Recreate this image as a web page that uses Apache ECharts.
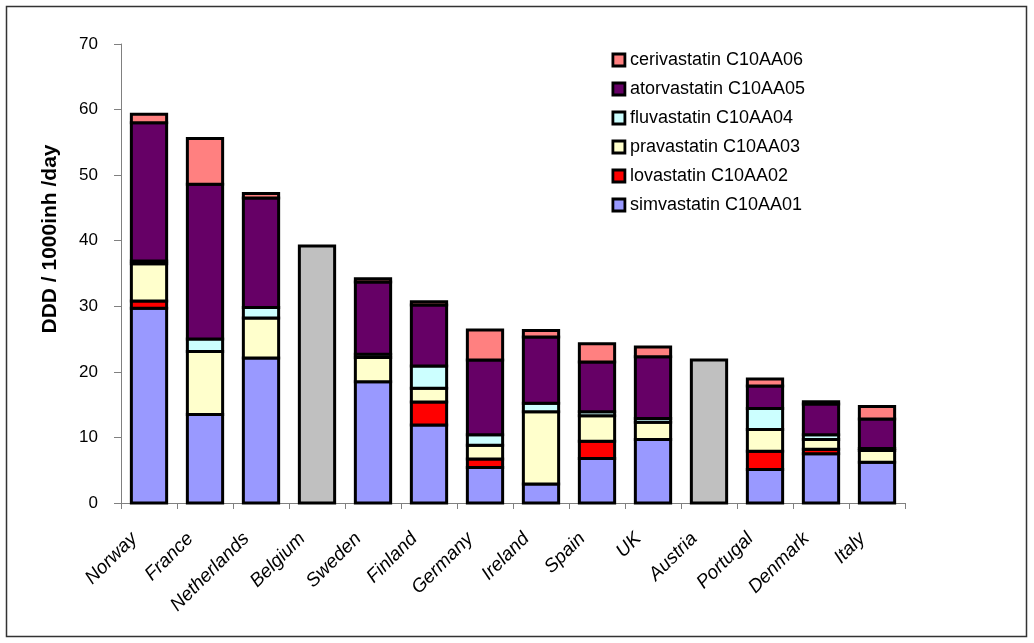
<!DOCTYPE html>
<html>
<head>
<meta charset="utf-8">
<script src="https://cdn.jsdelivr.net/npm/echarts@6/dist/echarts.min.js"></script>
<style>
html,body{margin:0;padding:0;background:#fff;}
#chart{width:1034px;height:643px;}
</style>
</head>
<body>
<div id="chart"></div>
<script>
const categories = ['Norway','France','Netherlands','Belgium','Sweden','Finland','Germany','Ireland','Spain','UK','Austria','Portugal','Denmark','Italy'];
const simvastatin  = [29.7, 13.5, 22.1, null, 18.5, 11.9, 5.4, 2.9, 6.8, 9.7, null, 5.1, 7.5, 6.2];
const lovastatin   = [1.1, null, null, null, null, 3.5, 1.3, null, 2.6, null, null, 2.8, 0.7, null];
const pravastatin  = [5.7, 9.6, 6.1, null, 3.7, 2.1, 2.1, 11.0, 3.9, 2.6, null, 3.3, 1.5, 1.8];
const fluvastatin  = [0.4, 1.9, 1.6, null, 0.5, 3.4, 1.6, 1.3, 0.6, 0.6, null, 3.2, 0.7, 0.3];
const atorvastatin = [21.1, 23.6, 16.7, null, 11.0, 9.3, 11.4, 10.1, 7.6, 9.4, null, 3.45, 4.7, 4.5];
const cerivastatin = [1.3, 7.0, 0.7, null, 0.5, 0.5, 4.6, 1.0, 2.8, 1.5, null, 1.05, 0.35, 1.9];
const totalOnly    = [null, null, null, 39.2, null, null, null, null, null, null, 21.8, null, null, null];
const yTicks = [0, 10, 20, 30, 40, 50, 60, 70];

const seriesDefs = [
  ['simvastatin C10AA01', simvastatin, '#9999FF'],
  ['lovastatin C10AA02', lovastatin, '#FF0000'],
  ['pravastatin C10AA03', pravastatin, '#FFFFCC'],
  ['fluvastatin C10AA04', fluvastatin, '#CCFFFF'],
  ['atorvastatin C10AA05', atorvastatin, '#660066'],
  ['cerivastatin C10AA06', cerivastatin, '#FF8080'],
  ['total', totalOnly, '#C0C0C0']
];

const chart = echarts.init(document.getElementById('chart'), null, {renderer:'canvas'});
const font = '"Liberation Sans", Arial, sans-serif';
const BAR_FRACTION = 0.63;
const STROKE = 3;

// stack bases computed from the data arrays
const running = categories.map(() => 0);
const series = seriesDefs.map(d => {
  const color = d[2];
  const data = [];
  d[1].forEach((v, i) => {
    if (v == null) return;
    data.push([i, running[i], running[i] + v]);
    running[i] += v;
  });
  return {
    name: d[0], type: 'custom', data: data,
    encode: {x: 0, y: [1, 2]},
    itemStyle: {color: color},
    renderItem: function (params, api) {
      const c = api.value(0);
      const p0 = api.coord([c, api.value(1)]);
      const p1 = api.coord([c, api.value(2)]);
      const w = api.size([1, 0])[0] * BAR_FRACTION;
      return {
        type: 'rect',
        shape: {x: p0[0] - w / 2, y: p1[1], width: w, height: p0[1] - p1[1]},
        style: {fill: color, stroke: '#000', lineWidth: STROKE}
      };
    },
    emphasis: {disabled: true}, animation: false
  };
});

chart.setOption({
  animation: false,
  textStyle: {fontFamily: font},
  grid: {left: 121, right: 129, top: 44, bottom: 140, containLabel: false},
  legend: {
    orient: 'vertical', left: 606.5, top: 46,
    data: seriesDefs.slice(0, 6).map(d => d[0]).reverse(),
    icon: 'rect', itemWidth: 12, itemHeight: 12, itemGap: 11,
    itemStyle: {borderColor: '#000', borderWidth: 2.8},
    textStyle: {fontSize: 18, color: '#000', fontFamily: font, lineHeight: 18},
    selectedMode: false
  },
  xAxis: {
    type: 'category', data: categories,
    axisLine: {lineStyle: {color: '#808080', width: 1}},
    axisTick: {show: true, length: 6, inside: false, lineStyle: {color: '#808080'}},
    axisLabel: {interval: 0, rotate: 45, fontSize: 19, fontStyle: 'italic', color: '#000', fontFamily: font, margin: 18, padding: [0, 21, 0, 0]}
  },
  yAxis: {
    type: 'value', min: yTicks[0], max: yTicks[yTicks.length-1], interval: 10,
    axisLine: {show: true, lineStyle: {color: '#808080', width: 1}},
    axisTick: {show: true, length: 7, lineStyle: {color: '#808080'}},
    splitLine: {show: false},
    axisLabel: {fontSize: 17, color: '#000', fontFamily: font, margin: 23}
  },
  graphic: [
    {type: 'text', x: 50, y: 239, rotation: Math.PI/2,
     style: {text: 'DDD / 1000inh /day', fontSize: 21, fontWeight: 'bold', fontFamily: font, fill: '#000', align: 'center', verticalAlign: 'middle'}},
    {type: 'rect', shape: {x: 6.5, y: 6.5, width: 1020, height: 630}, style: {fill: 'none', stroke: '#333', lineWidth: 1.5}, silent: true}
  ],
  series: series
});
</script>
</body>
</html>
